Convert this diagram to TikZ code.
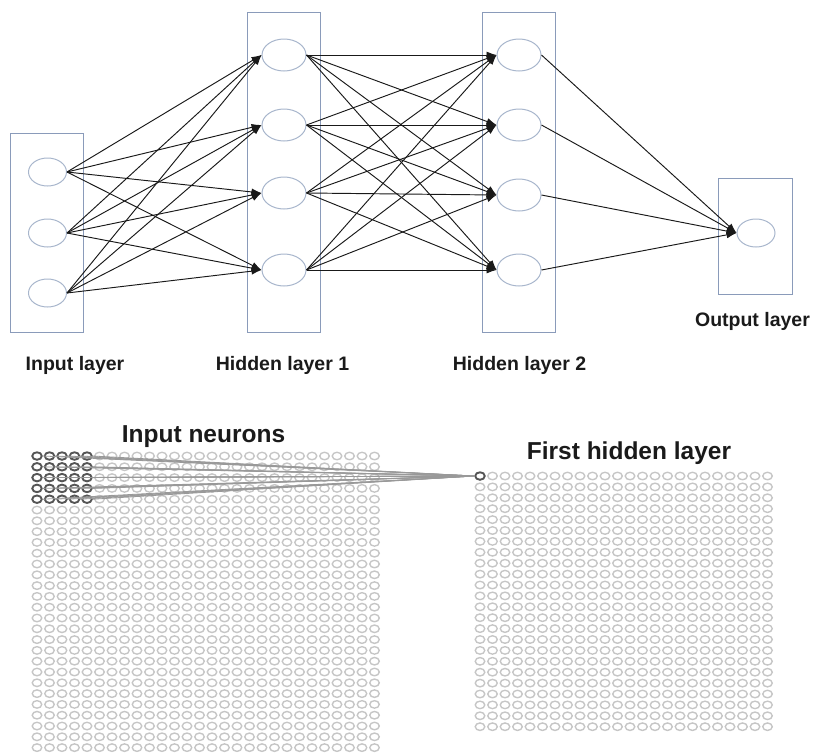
\documentclass[tikz,border=0pt]{standalone}
\usepackage{fontspec}
\setmainfont{Liberation Sans}
\usetikzlibrary{shapes.geometric,arrows.meta}
\definecolor{boxc}{HTML}{8A9BBA}
\definecolor{circc}{HTML}{A8B6CC}
\definecolor{gridc}{HTML}{C6C6C6}
\definecolor{darkc}{HTML}{555555}
\definecolor{txtc}{HTML}{1A1A1A}
\tikzset{
 layerbox/.style={draw=boxc, line width=1pt, rectangle, inner sep=0pt},
 neur/.style={ellipse, draw=circc, line width=1pt, inner sep=0pt, minimum width=38pt, minimum height=28pt},
 bigneur/.style={neur, minimum width=44pt, minimum height=32pt},
 conn/.style={draw=black!90, line width=0.95pt, -{Latex[length=10pt,width=7pt]}},
 lbl/.style={font=\bfseries\fontsize{19.5}{22}\selectfont, text=txtc, inner sep=0pt},
 ttl/.style={font=\bfseries\fontsize{24.5}{28}\selectfont, text=txtc, inner sep=0pt},
 gridn/.style={ellipse, draw=gridc, line width=1.4pt, inner sep=0pt, minimum width=9.5pt, minimum height=7.5pt},
 darkn/.style={gridn, draw=darkc, line width=1.9pt},
 rf/.style={draw=gray!80, line width=0.8pt},
}
\begin{document}
\begin{tikzpicture}[x=1pt,y=-1pt]
\useasboundingbox (0,0) rectangle (816,753);
% layer boxes
\node[layerbox, minimum width=73pt, minimum height=199pt] (boxin) at (46.5,232.5) {};
\node[layerbox, minimum width=73pt, minimum height=320pt] (boxh1) at (283.5,172) {};
\node[layerbox, minimum width=73pt, minimum height=320pt] (boxh2) at (518.5,172) {};
\node[layerbox, minimum width=74pt, minimum height=116pt] (boxout) at (755,236) {};
% neurons
\node[neur] (i1) at (47.5,172) {};
\node[neur] (i2) at (47.5,233) {};
\node[neur] (i3) at (47.5,293) {};
\node[bigneur] (h1) at (284,55) {};
\node[bigneur] (h2) at (284,125) {};
\node[bigneur] (h3) at (284,193) {};
\node[bigneur] (h4) at (284,270) {};
\node[bigneur] (k1) at (519,55) {};
\node[bigneur] (k2) at (519,125) {};
\node[bigneur] (k3) at (519,195) {};
\node[bigneur] (k4) at (519,270) {};
\node[neur] (o) at (756,233) {};
% connections
\foreach \a in {1,2,3} \foreach \b in {1,...,4} \draw[conn] (i\a.east) -- (h\b.west);
\foreach \a in {1,...,4} \foreach \b in {1,...,4} \draw[conn] (h\a.east) -- (k\b.west);
\foreach \a in {1,...,4} \draw[conn] (k\a.east) -- (o.west);
% labels
\node[lbl] (l1) at (75,365) {Input layer};
\node[lbl] (l2) at (282.5,365) {Hidden layer 1};
\node[lbl] (l3) at (519.5,365) {Hidden layer 2};
\node[lbl] (l4) at (752.5,321) {Output layer};
\node[ttl] (t1) at (203.5,437) {Input neurons};
\node[ttl] (t2) at (629,453) {First hidden layer};
% input grid
\foreach \i in {0,...,27} \foreach \j in {0,...,27} {
  \pgfmathtruncatemacro\dk{(\i<5)&&(\j<5)}
  \ifnum\dk=1 \tikzset{cur/.style={darkn}}\else\tikzset{cur/.style={gridn}}\fi
  \node[cur] (a-\i-\j) at ({37+12.5*\i},{456+10.8*\j}) {};
}
% hidden grid
\foreach \i in {0,...,23} \foreach \j in {0,...,23} {
  \pgfmathtruncatemacro\dk{(\i<1)&&(\j<1)}
  \ifnum\dk=1 \tikzset{cur/.style={darkn}}\else\tikzset{cur/.style={gridn}}\fi
  \node[cur] (b-\i-\j) at ({480+12.5*\i},{476+10.9*\j}) {};
}
% receptive field connections
\foreach \i in {0,...,4} \foreach \j in {0,...,4} \draw[rf] (a-\i-\j.east) -- (b-0-0.west);
\end{tikzpicture}
\end{document}
